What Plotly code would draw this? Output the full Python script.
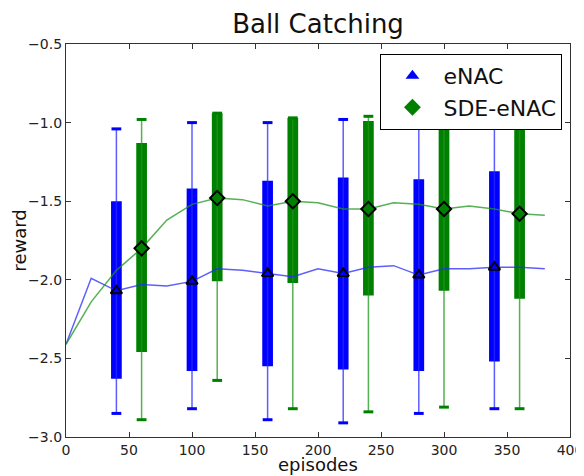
import plotly.graph_objects as go

# ---------------- data ----------------
episodes = [0, 20, 40, 60, 80, 100, 120, 140, 160, 180,
            200, 220, 240, 260, 280, 300, 320, 340, 360, 380]
enac_mean = [-2.41, -1.99, -2.07, -2.03, -2.04, -2.01, -1.93, -1.94, -1.96, -1.98,
             -1.93, -1.96, -1.92, -1.91, -1.97, -1.93, -1.93, -1.92, -1.92, -1.93]
sde_mean = [-2.41, -2.14, -1.94, -1.80, -1.62, -1.52, -1.48, -1.49, -1.53, -1.50,
            -1.51, -1.55, -1.55, -1.51, -1.52, -1.55, -1.53, -1.55, -1.58, -1.59]

enac_pos = [40, 100, 160, 220, 280, 340]
enac_box_low = [-2.63, -2.58, -2.55, -2.57, -2.58, -2.52]
enac_box_high = [-1.50, -1.42, -1.37, -1.35, -1.36, -1.31]
enac_whisk_low = [-2.85, -2.82, -2.89, -2.91, -2.85, -2.82]
enac_whisk_high = [-1.04, -1.00, -1.00, -0.98, -0.98, -0.97]

sde_pos = [60, 120, 180, 240, 300, 360]
sde_box_low = [-2.46, -2.01, -2.02, -2.10, -2.07, -2.12]
sde_box_high = [-1.13, -0.94, -0.97, -0.99, -1.03, -1.04]
sde_whisk_low = [-2.89, -2.64, -2.82, -2.84, -2.81, -2.82]
sde_whisk_high = [-0.98, -0.94, -0.97, -0.96, -0.97, -0.96]

x_ticks = [0, 50, 100, 150, 200, 250, 300, 350, 400]
y_ticks = [-3.0, -2.5, -2.0, -1.5, -1.0, -0.5]

# ---------------- styling ----------------
BLUE = "#0000ff"
GREEN = "#008000"
BLUE_LINE = "rgba(40,40,255,0.75)"
GREEN_LINE = "rgba(30,150,30,0.75)"
FONT = "DejaVu Sans"

fig = go.Figure()


def add_series(pos, blo, bhi, wlo, whi, color, line_color):
    # whiskers
    wx, wy = [], []
    for p, lo, hi in zip(pos, wlo, whi):
        wx += [p, p, None]
        wy += [lo, hi, None]
    fig.add_trace(go.Scatter(x=wx, y=wy, mode="lines", showlegend=False,
                             line=dict(color=line_color, width=1.5), hoverinfo="skip"))
    # caps
    fig.add_trace(go.Scatter(x=pos + pos, y=wlo + whi, mode="markers", showlegend=False,
                             marker=dict(symbol="line-ew", size=7,
                                         line=dict(color=color, width=3)),
                             hoverinfo="skip"))
    # boxes
    fig.add_trace(go.Bar(x=pos, y=[h - l for l, h in zip(blo, bhi)], base=blo,
                         width=8.5, marker=dict(color=color, line=dict(width=0)),
                         showlegend=False, hoverinfo="skip"))


add_series(enac_pos, enac_box_low, enac_box_high, enac_whisk_low, enac_whisk_high, BLUE, BLUE_LINE)
add_series(sde_pos, sde_box_low, sde_box_high, sde_whisk_low, sde_whisk_high, GREEN, GREEN_LINE)

# mean lines
fig.add_trace(go.Scatter(x=episodes, y=enac_mean, mode="lines", showlegend=False,
                         line=dict(color=BLUE_LINE, width=1.5)))
fig.add_trace(go.Scatter(x=episodes, y=sde_mean, mode="lines", showlegend=False,
                         line=dict(color=GREEN_LINE, width=1.5)))

# markers at box positions, taken from mean curves
enac_mark_y = [enac_mean[episodes.index(p)] for p in enac_pos]
sde_mark_y = [sde_mean[episodes.index(p)] for p in sde_pos]
fig.add_trace(go.Scatter(x=enac_pos, y=enac_mark_y, mode="markers", showlegend=False,
                         marker=dict(symbol="triangle-up", size=10, color=BLUE,
                                     line=dict(color="black", width=2))))
fig.add_trace(go.Scatter(x=sde_pos, y=sde_mark_y, mode="markers", showlegend=False,
                         marker=dict(symbol="diamond", size=11, color=GREEN,
                                     line=dict(color="black", width=2))))

# legend entries
fig.add_trace(go.Scatter(x=[None], y=[None], mode="markers", name="eNAC",
                         marker=dict(symbol="triangle-up", size=12, color=BLUE)))
fig.add_trace(go.Scatter(x=[None], y=[None], mode="markers", name="SDE-eNAC",
                         marker=dict(symbol="diamond", size=13, color=GREEN)))

axis_common = dict(showgrid=False, zeroline=False, showline=True, linecolor="#333",
                   linewidth=1.2, mirror="ticks", ticks="inside", ticklen=5,
                   tickcolor="#333", tickfont=dict(family=FONT, size=14, color="#222"),
                   automargin=False)

# page body has an 8px margin; figure fills the rest of the window
W, H = 576, 468
fig.update_layout(
    width=W, height=H,
    margin=dict(l=58, r=14, t=36, b=39),
    paper_bgcolor="white", plot_bgcolor="white",
    barmode="overlay",
    font=dict(family=FONT, color="#111"),
    title=dict(text="Ball Catching", x=(318 - 8) / W, xanchor="center",
               y=1 - 16 / H, yanchor="middle", yref="container",
               font=dict(family=FONT, size=26, color="#111")),
    xaxis=dict(range=[0, 400], tickvals=x_ticks, **axis_common),
    yaxis=dict(range=[-3.0, -0.5], tickvals=y_ticks, tickformat=".1f", **axis_common),
    legend=dict(x=0.985, y=0.975, xanchor="right", yanchor="top",
                bgcolor="white", bordercolor="black", borderwidth=1,
                font=dict(family=FONT, size=22, color="#111"),
                itemwidth=52, tracegroupgap=0),
    showlegend=True,
    annotations=[
        dict(text="episodes", xref="paper", yref="paper", x=0.5, y=-0.07,
             xanchor="center", yanchor="middle", showarrow=False,
             font=dict(family=FONT, size=18, color="#111")),
        dict(text="reward", xref="paper", yref="paper", x=-0.093, y=0.5,
             xanchor="center", yanchor="middle", textangle=-90, showarrow=False,
             font=dict(family=FONT, size=18, color="#111")),
    ],
)

fig.write_html("out.html")
